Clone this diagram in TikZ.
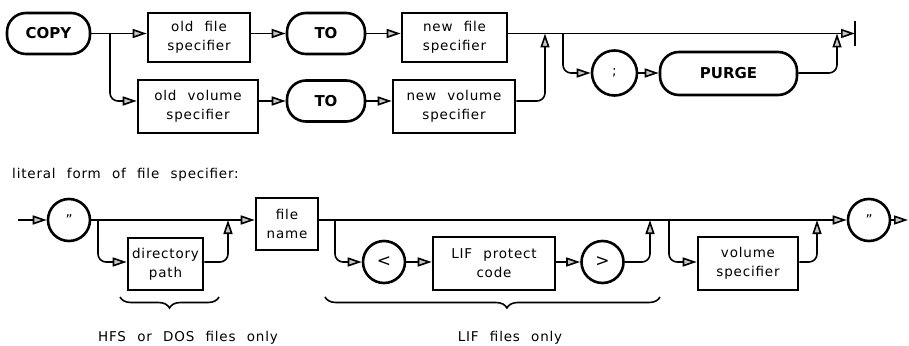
\documentclass[tikz,border=0pt]{standalone}
\usepackage{fontspec}
\setmainfont[LetterSpace=6,WordSpace=2.2]{DejaVu Sans}
\newfontfamily\termfont[LetterSpace=0]{DejaVu Sans}
\usetikzlibrary{arrows.meta,decorations.pathreplacing,calc}
\begin{document}
\begin{tikzpicture}[x=1pt,y=-1pt,
  every node/.style={font=\fontsize{13.5}{19}\selectfont, inner sep=0pt},
  line/.style={line width=1.6pt},
  conn/.style={line width=1.6pt, -{Triangle[length=14pt,width=9pt,line width=1.6pt,fill=gray!45]}},
  rc/.style={rounded corners=8pt},
  term/.style={draw, line width=2.6pt, rounded corners=19pt, font=\termfont\fontsize{15}{18}\selectfont\bfseries},
  sbox/.style={draw, line width=2.6pt, align=center},
  circ/.style={draw, circle, line width=2.6pt, minimum size=42pt}
]
\useasboundingbox (0,0) rectangle (909,345);

% ---- top diagram ----
\node[term, minimum width=83pt, minimum height=41pt] (copy) at (48.5,33.5) {COPY};
\node[sbox, minimum width=102pt, minimum height=49pt] (ofs) at (199,37.5) {old file\\specifier};
\node[term, minimum width=78pt, minimum height=41pt] (to1) at (326,33.5) {TO};
\node[sbox, minimum width=105pt, minimum height=49pt] (nfs) at (454.5,37.5) {new file\\specifier};

\node[sbox, minimum width=120pt, minimum height=53pt] (ovs) at (198,106.5) {old volume\\specifier};
\node[term, minimum width=78pt, minimum height=41pt] (to2) at (326,101) {TO};
\node[sbox, minimum width=122pt, minimum height=53pt] (nvs) at (454,106.5) {new volume\\specifier};

\node[circ, minimum size=45pt] (semi) at (614.5,73) {;};
\node[term, minimum width=137pt, minimum height=43pt] (purge) at (728.5,73.5) {PURGE};

\coordinate (b1) at (110,33.5);
\coordinate (j1) at (545,33.5);
\coordinate (b2) at (563,33.5);
\coordinate (j2) at (837,33.5);
\coordinate (endc) at (855,33.5);
\coordinate (endt) at (855,21);
\coordinate (endb) at (855,46);

\draw[conn] (copy.east) -- (copy.east -| ofs.west);
\draw[conn, rc] (b1) |- (ovs.west |- to2.west);
\draw[conn] (ofs.east |- to1.west) -- (to1.west);
\draw[conn] (to1.east) -- (to1.east -| nfs.west);
\draw[conn] (nfs.east |- to1.east) -- (endc);
\draw[line width=2.6pt] (endt) -- (endb);
\draw[conn] (ovs.east |- to2.west) -- (to2.west);
\draw[conn] (to2.east) -- (to2.east -| nvs.west);
\draw[conn, rc] (nvs.east |- to2.east) -| (j1);
\draw[conn, rc] (b2) |- (semi.west);
\draw[conn] (semi.east) -- (semi.east -| purge.west);
\draw[conn, rc] (purge.east |- semi.east) -| (j2);

% ---- bottom diagram ----
\node[anchor=west] (lit) at (12,175) {literal form of file specifier:};

\coordinate (start) at (18,220);
\node[circ] (q1) at (69,220) {\char"22};
\node[sbox, minimum width=75pt, minimum height=52pt] (dir) at (165.5,264) {directory\\path};
\node[sbox, minimum width=62pt, minimum height=52pt] (fname) at (287,224) {file\\name};
\node[circ, font=\fontsize{17}{19}\selectfont] (lt) at (384,262) {<};
\node[sbox, minimum width=122pt, minimum height=53pt] (lif) at (494,263.5) {LIF protect\\code};
\node[circ, font=\fontsize{17}{19}\selectfont] (gt) at (602.5,262) {>};
\node[sbox, minimum width=100pt, minimum height=53pt] (vol) at (748,263.5) {volume\\specifier};
\node[circ] (q2) at (869,220) {\char"22};
\coordinate (exit) at (908,220);

\coordinate (b3) at (98,220);
\coordinate (j3) at (228,220);
\coordinate (b4) at (335,220);
\coordinate (j4) at (650,220);
\coordinate (b5) at (669,220);
\coordinate (j5) at (817,220);

\draw[conn] (start) -- (q1.west);
\draw[conn] (q1.east) -- (q1.east -| fname.west);
\draw[conn, rc] (b3) |- (dir.west |- lt.west);
\draw[conn, rc] (dir.east |- lt.west) -| (j3);
\draw[conn] (fname.east |- q1.east) -- (q2.west);
\draw[conn] (q2.east) -- (exit);
\draw[conn, rc] (b4) |- (lt.west);
\draw[conn] (lt.east) -- (lt.east -| lif.west);
\draw[conn] (lif.east |- gt.west) -- (gt.west);
\draw[conn, rc] (gt.east) -| (j4);
\draw[conn, rc] (b5) |- (vol.west |- gt.west);
\draw[conn, rc] (vol.east |- gt.east) -| (j5);

% braces
\coordinate (br1a) at (120,297);
\coordinate (br1b) at (219,297);
\coordinate (br2a) at (325,297);
\coordinate (br2b) at (660,297);
\draw[line, decorate, decoration={brace, mirror, amplitude=11pt}] (br1a) -- (br1b);
\draw[line, decorate, decoration={brace, mirror, amplitude=11pt, aspect=0.543}] (br2a) -- (br2b);
\node (hfs) at (188,338) {HFS or DOS files only};
\node (lifo) at (510,338) {LIF files only};
\end{tikzpicture}
\end{document}
